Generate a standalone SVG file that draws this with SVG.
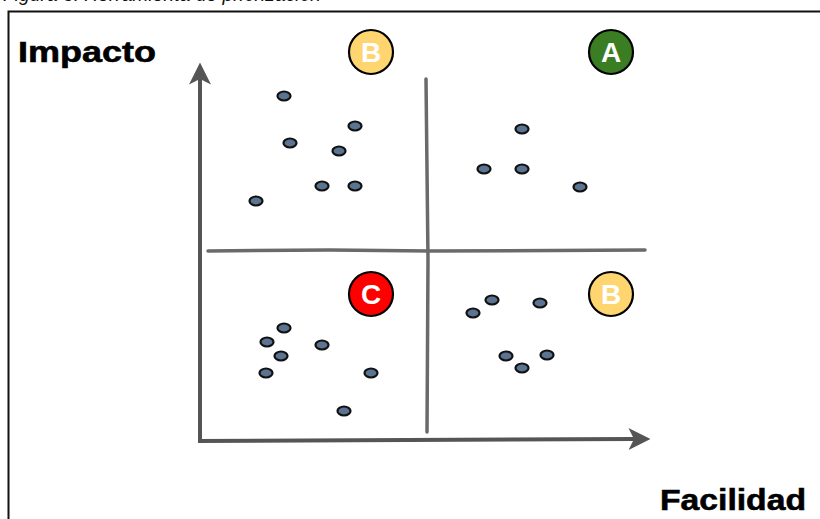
<svg xmlns="http://www.w3.org/2000/svg" width="820" height="519" viewBox="0 0 820 519">
  <defs>
    <style>
      .caption { font-family: "Liberation Sans", Arial, sans-serif; font-style: italic; font-size: 21px; fill: #111; }
      .axis-label { font-family: "Liberation Sans", Arial, sans-serif; font-weight: bold; font-size: 30px; fill: #000; stroke: #000; stroke-width: 0.6; }
      .axis { stroke: #555; stroke-width: 4; fill: none; }
      .divider { stroke: #6a6a6a; stroke-width: 3.5; fill: none; stroke-linecap: round; }
      .badge { stroke: #000; stroke-width: 2.2; }
      .badge-text { font-family: "Liberation Sans", Arial, sans-serif; font-weight: bold; font-size: 28px; fill: #fff; text-anchor: middle; }
      .dot { fill: #5b7491; stroke: #111; stroke-width: 2.2; }
    </style>
    <marker id="arrow" viewBox="0 0 12 12" refX="3" refY="6" markerWidth="5.5" markerHeight="5.5" orient="auto" markerUnits="strokeWidth">
      <path d="M0,0 L12,6 L0,12 L3,6 Z" fill="#555"/>
    </marker>
  </defs>

  <rect width="820" height="519" fill="#fff"/>

  <!-- caption, mostly clipped by the top edge -->
  <text class="caption" x="3" y="1" textLength="318" lengthAdjust="spacingAndGlyphs">Figura 3. Herramienta de priorización</text>

  <!-- outer frame (open on right and bottom) -->
  <path d="M8.5,519 L8.5,11.5 L820,11.5" fill="none" stroke="#111" stroke-width="2"/>

  <text class="axis-label" x="18" y="62" textLength="138" lengthAdjust="spacingAndGlyphs">Impacto</text>
  <text class="axis-label" x="660" y="510" textLength="146" lengthAdjust="spacingAndGlyphs">Facilidad</text>

  <g id="connectors">
    <!-- axes -->
    <path class="axis" d="M200,443 L200,79" marker-end="url(#arrow)"/>
    <path class="axis" d="M198,441 L634,439" marker-end="url(#arrow)"/>
    <!-- quadrant dividers -->
    <path class="divider" d="M426,79 L427,170 L428,260 L427,432"/>
    <path class="divider" d="M208,251 L330,250 L430,251 L645,250"/>
  </g>

  <g id="badge-b-top">
    <circle class="badge" cx="371" cy="52" r="22" fill="#ffd56f"/>
    <text class="badge-text" x="371" y="62">B</text>
  </g>
  <g id="badge-a">
    <circle class="badge" cx="611" cy="52" r="22" fill="#3a7d22"/>
    <text class="badge-text" x="611" y="62">A</text>
  </g>
  <g id="badge-c">
    <circle class="badge" cx="371" cy="294" r="22" fill="#ff0000"/>
    <text class="badge-text" x="371" y="304">C</text>
  </g>
  <g id="badge-b-bottom">
    <circle class="badge" cx="611" cy="294" r="22" fill="#ffd56f"/>
    <text class="badge-text" x="611" y="304">B</text>
  </g>

  <g id="dots-top-left">
    <ellipse class="dot" cx="284" cy="96" rx="6.5" ry="4.5"/>
    <ellipse class="dot" cx="355" cy="126" rx="6.5" ry="4.5"/>
    <ellipse class="dot" cx="290" cy="143" rx="6.5" ry="4.5"/>
    <ellipse class="dot" cx="339" cy="151" rx="6.5" ry="4.5"/>
    <ellipse class="dot" cx="322" cy="186" rx="6.5" ry="4.5"/>
    <ellipse class="dot" cx="355" cy="186" rx="6.5" ry="4.5"/>
    <ellipse class="dot" cx="256" cy="201" rx="6.5" ry="4.5"/>
  </g>
  <g id="dots-top-right">
    <ellipse class="dot" cx="522" cy="129" rx="6.5" ry="4.5"/>
    <ellipse class="dot" cx="484" cy="169" rx="6.5" ry="4.5"/>
    <ellipse class="dot" cx="522" cy="169" rx="6.5" ry="4.5"/>
    <ellipse class="dot" cx="580" cy="187" rx="6.5" ry="4.5"/>
  </g>
  <g id="dots-bottom-left">
    <ellipse class="dot" cx="284" cy="328" rx="6.5" ry="4.5"/>
    <ellipse class="dot" cx="267" cy="342" rx="6.5" ry="4.5"/>
    <ellipse class="dot" cx="281" cy="356" rx="6.5" ry="4.5"/>
    <ellipse class="dot" cx="322" cy="345" rx="6.5" ry="4.5"/>
    <ellipse class="dot" cx="266" cy="373" rx="6.5" ry="4.5"/>
    <ellipse class="dot" cx="371" cy="373" rx="6.5" ry="4.5"/>
    <ellipse class="dot" cx="344" cy="411" rx="6.5" ry="4.5"/>
  </g>
  <g id="dots-bottom-right">
    <ellipse class="dot" cx="492" cy="300" rx="6.5" ry="4.5"/>
    <ellipse class="dot" cx="540" cy="303" rx="6.5" ry="4.5"/>
    <ellipse class="dot" cx="473" cy="313" rx="6.5" ry="4.5"/>
    <ellipse class="dot" cx="506" cy="356" rx="6.5" ry="4.5"/>
    <ellipse class="dot" cx="547" cy="355" rx="6.5" ry="4.5"/>
    <ellipse class="dot" cx="522" cy="368" rx="6.5" ry="4.5"/>
  </g>
</svg>
